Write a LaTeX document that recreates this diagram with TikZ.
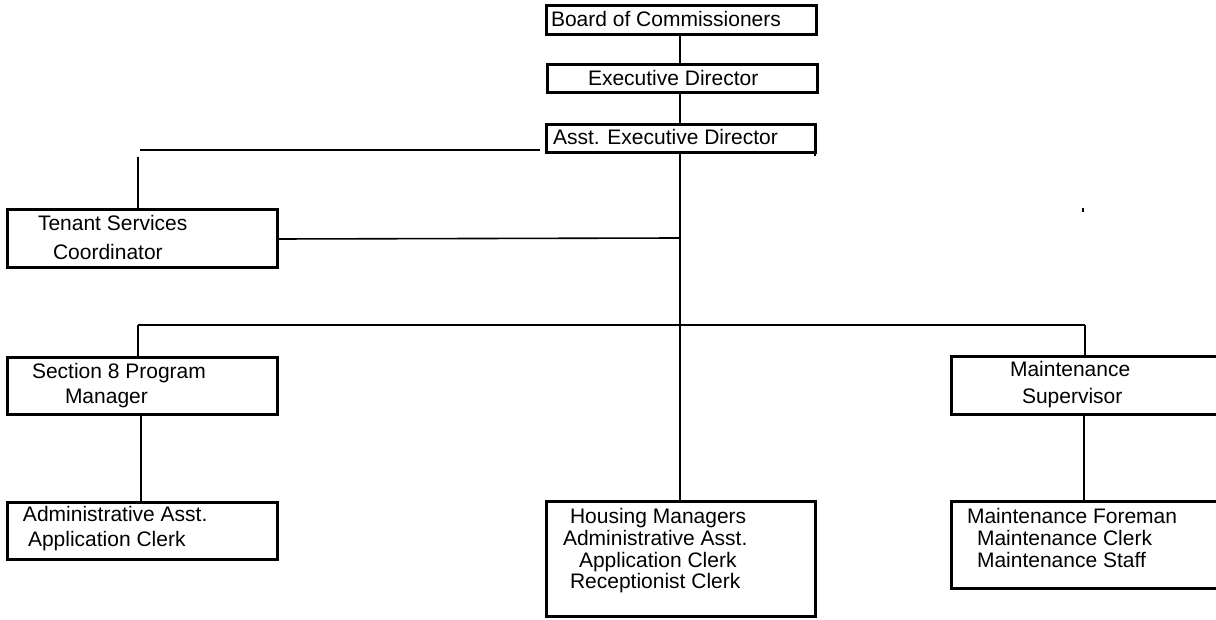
\documentclass[tikz,border=0pt]{standalone}
\usepackage{fontspec}
\setmainfont{Liberation Sans}
\begin{document}
\begin{tikzpicture}[x=1pt,y=-1pt,
  box/.style={draw=black,line width=3pt,anchor=north west,inner sep=0pt,outer sep=0pt},
  lbl/.style={anchor=base west,inner sep=0pt,outer sep=0pt,font=\fontsize{21}{22}\selectfont},
  conn/.style={draw=black,line width=1.6pt}]
\useasboundingbox (0,0) rectangle (1216,620);
% boxes
\node[box,minimum width=270pt,minimum height=29pt] (board) at (546,6) {};
\node[box,minimum width=270pt,minimum height=28pt] (exec) at (547,65) {};
\node[box,minimum width=269pt,minimum height=28pt] (asst) at (546,125) {};
\node[box,minimum width=270pt,minimum height=58pt] (tenant) at (7,210) {};
\node[box,minimum width=270pt,minimum height=56pt] (sec8) at (7,358) {};
\node[box,minimum width=280pt,minimum height=57pt] (maint) at (951,357) {};
\node[box,minimum width=270pt,minimum height=57pt] (admin) at (7,502) {};
\node[box,minimum width=269pt,minimum height=115pt] (housing) at (546,501) {};
\node[box,minimum width=280pt,minimum height=87pt] (foreman) at (951,501) {};
% labels
\node[lbl] (tboard) at (551,27) {Board of Commissioners};
\node[lbl] (texec) at (588,86) {Executive Director};
\node[lbl] (tasst) at (553,145) {Asst. Executive Director};
\node[lbl] (tten1) at (38,231) {Tenant Services};
\node[lbl] (tten2) at (53,260) {Coordinator};
\node[lbl] (tsec1) at (32,378) {Section 8 Program};
\node[lbl] (tsec2) at (65,403) {Manager};
\node[lbl] (tmnt1) at (1010,377) {Maintenance};
\node[lbl] (tmnt2) at (1022,403) {Supervisor};
\node[lbl] (tadm1) at (23,521) {Administrative Asst.};
\node[lbl] (tadm2) at (28,546) {Application Clerk};
\node[lbl] (thou1) at (570,523) {Housing Managers};
\node[lbl] (thou2) at (563,545) {Administrative Asst.};
\node[lbl] (thou3) at (579,567) {Application Clerk};
\node[lbl] (thou4) at (570,588) {Receptionist Clerk};
\node[lbl] (tfor1) at (967,523) {Maintenance Foreman};
\node[lbl] (tfor2) at (977,545) {Maintenance Clerk};
\node[lbl] (tfor3) at (977,567) {Maintenance Staff};
% coordinates
\coordinate (spine) at (680,0);
\coordinate (lt1) at (140,150);
\coordinate (lt2) at (540,150);
\coordinate (lt3) at (138,157);
\coordinate (tj) at (680,238);
\coordinate (hL) at (138,325);
\coordinate (hR) at (1085,325);
\coordinate (s8x) at (141,0);
\coordinate (mx) at (1084,0);
% connectors
\draw[conn] (board.south -| spine) -- (exec.north -| spine);
\draw[conn] (exec.south -| spine) -- (asst.north -| spine);
\draw[conn] (asst.south -| spine) -- (housing.north -| spine);
\draw[conn] (lt1) -- (lt2);
\draw[conn] (lt3) -- (tenant.north -| lt3);
\draw[conn] (tenant.east) -- (tj);
\draw[conn] (hL) -- (hR);
\draw[conn] (hL) -- (sec8.north -| hL);
\draw[conn] (hR) -- (maint.north -| hR);
\draw[conn] (sec8.south -| s8x) -- (admin.north -| s8x);
\draw[conn] (maint.south -| mx) -- (foreman.north -| mx);
\draw[conn] (asst.south east) -- ++(0,3);
\fill[black] (1082,208) rectangle (1084,212);
\end{tikzpicture}
\end{document}
